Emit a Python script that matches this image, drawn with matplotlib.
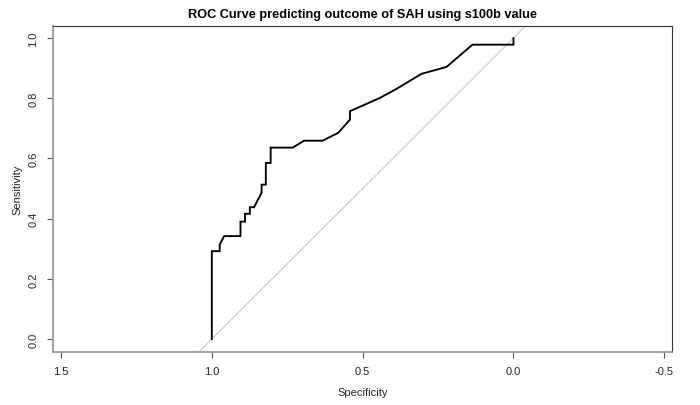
import matplotlib
matplotlib.use("Agg")
import matplotlib.pyplot as plt

plt.rcParams['font.family'] = ['Liberation Sans', 'DejaVu Sans']

# ROC curve points (specificity, sensitivity)
specificity = [1.0, 1.0, 0.974, 0.974, 0.959, 0.905, 0.905, 0.890, 0.890,
               0.874, 0.874, 0.860, 0.835, 0.835, 0.821, 0.821, 0.805, 0.805,
               0.732, 0.694, 0.633, 0.581, 0.542, 0.542, 0.443, 0.388, 0.305,
               0.222, 0.136, 0.0, 0.0]
sensitivity = [0.0, 0.292, 0.292, 0.314, 0.342, 0.342, 0.390, 0.390, 0.416,
               0.416, 0.438, 0.438, 0.486, 0.513, 0.513, 0.585, 0.585, 0.636,
               0.636, 0.659, 0.659, 0.685, 0.729, 0.757, 0.801, 0.831, 0.881,
               0.904, 0.978, 0.978, 1.0]

x_ticks = [1.5, 1.0, 0.5, 0.0, -0.5]
y_ticks = [0.0, 0.2, 0.4, 0.6, 0.8, 1.0]

TITLE = 'ROC Curve predicting outcome of SAH using s100b value'


def main():
    fig = plt.figure(figsize=(7.0, 4.06), dpi=100)
    W, H = 700, 406
    left, right, top, bottom = 52.7, 672.3, 27.3, 352.7
    ax = fig.add_axes([left / W, 1 - bottom / H, (right - left) / W, (bottom - top) / H])

    # chance diagonal
    ax.axline((1, 0), (0, 1), color='#c8c8c8', lw=0.8, zorder=1)
    ax.plot(specificity, sensitivity, color='black', lw=1.35, zorder=2,
            solid_joinstyle='miter')

    ax.set_xlim(1.5275, -0.5265)
    ax.set_ylim(-0.042, 1.039)

    ax.set_xticks(x_ticks)
    ax.set_xticklabels(['1.5', '1.0', '0.5', '0.0', '-0.5'])
    ax.set_yticks(y_ticks)
    ax.set_yticklabels(['0.0', '0.2', '0.4', '0.6', '0.8', '1.0'],
                       rotation=90, va='center')

    ax.tick_params(axis='both', direction='out', length=4.4, width=0.8,
                   color='#555555', labelsize=8, labelcolor='#222222', pad=6)

    for side in ['top', 'right']:
        ax.spines[side].set_color('#333333')
        ax.spines[side].set_linewidth(0.8)
    for side in ['left', 'bottom']:
        ax.spines[side].set_color('#999999')
        ax.spines[side].set_linewidth(1.3)

    ax.set_xlabel('Specificity', fontsize=8, color='#222222', labelpad=8)
    ax.set_ylabel('Sensitivity', fontsize=8, color='#222222', labelpad=4)
    ax.set_title(TITLE, fontsize=9.2, fontweight='bold', pad=7)

    fig.savefig('out.png', dpi=100)


if __name__ == "__main__":
    main()
